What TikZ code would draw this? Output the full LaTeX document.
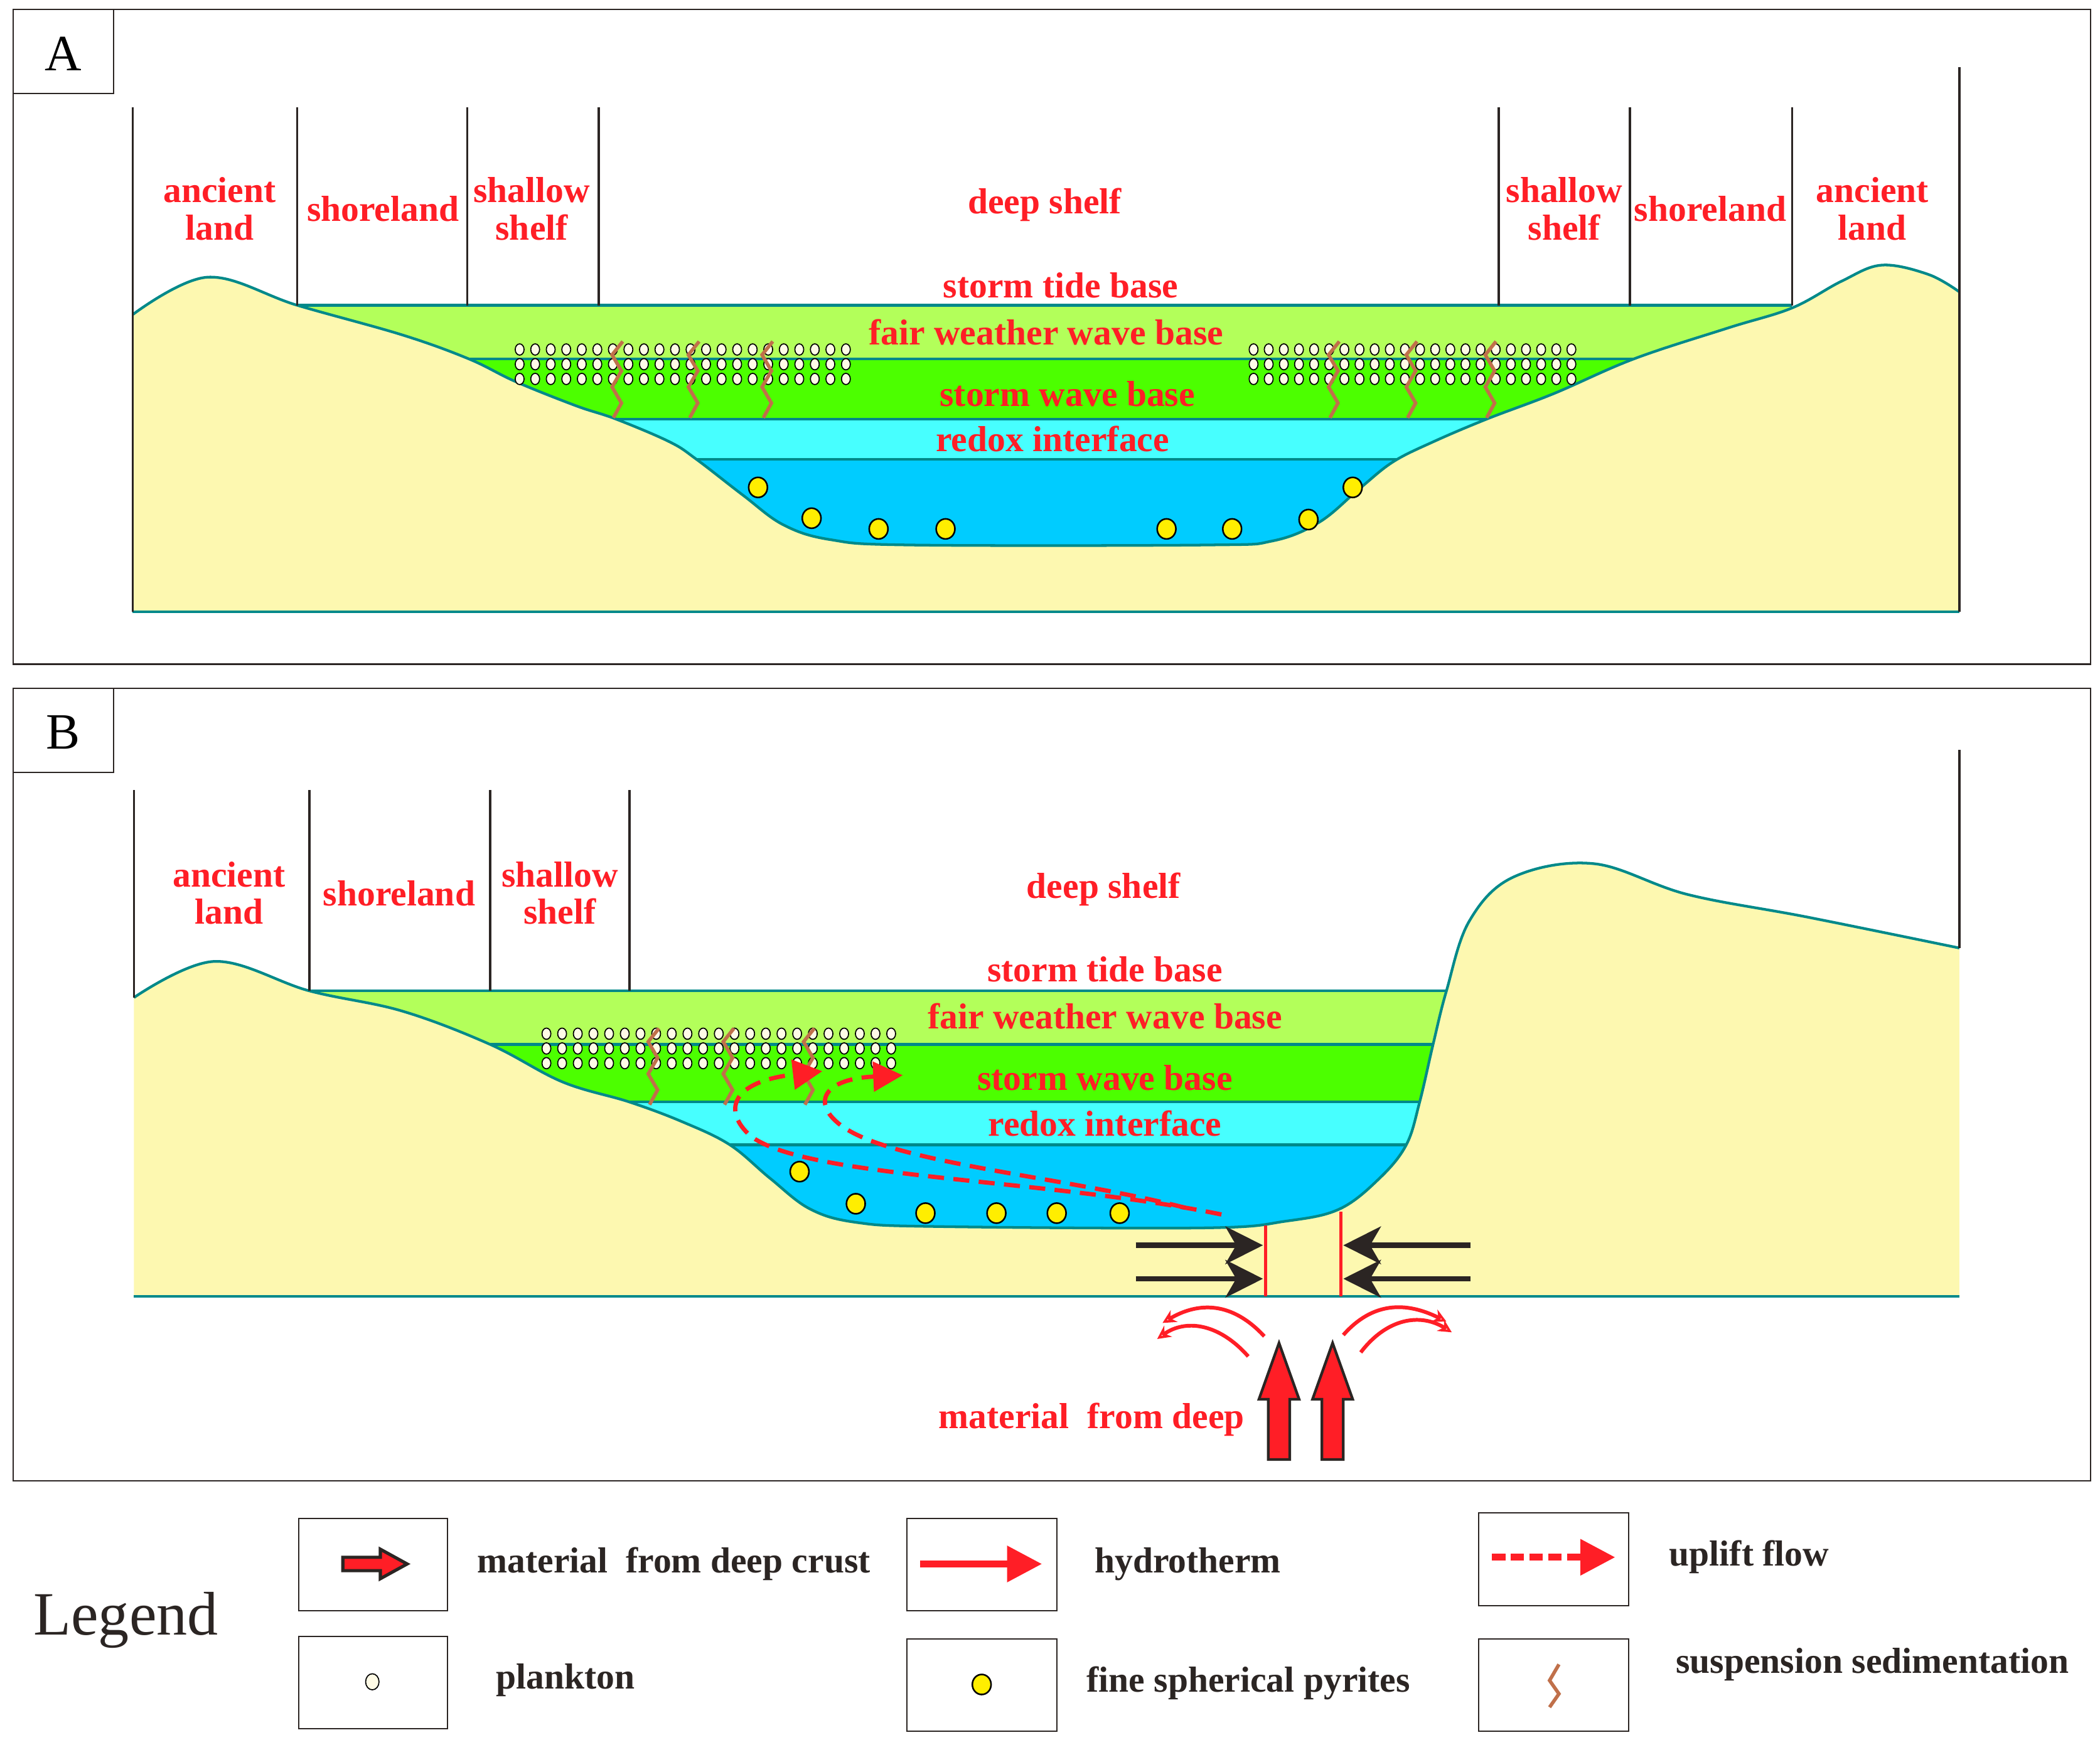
\documentclass[tikz,border=0pt]{standalone}
\usepackage{fontspec}
\setmainfont{Liberation Serif}
\usetikzlibrary{arrows.meta}
\definecolor{landc}{HTML}{FDF8B0}
\definecolor{tealc}{HTML}{00898A}
\definecolor{lg}{HTML}{B3FF5A}
\definecolor{gr}{HTML}{4CFF00}
\definecolor{cy}{HTML}{47FFFF}
\definecolor{bl}{HTML}{00CCFF}
\definecolor{rd}{HTML}{FF1E26}
\definecolor{br}{HTML}{C0704A}
\definecolor{dk}{HTML}{2B2523}
\definecolor{ivory}{HTML}{FFFBE6}
\definecolor{yl}{HTML}{FFEE00}
\tikzset{
 lab/.style={text=rd,font=\fontsize{13.5}{14}\selectfont\bfseries,align=center,inner sep=0},
 leg/.style={text=dk,font=\fontsize{13.5}{14}\selectfont\bfseries,anchor=west,inner sep=0},
 vl/.style={dk,line width=0.8pt},
 surf/.style={tealc,line width=1pt},
 susp/.style={br,line width=1.3pt},
 plk/.style={fill=ivory,draw=black,line width=0.4pt},
 pyr/.style={fill=yl,draw=black,line width=0.6pt},
 frame/.style={draw=dk,line width=0.5pt},
 upl/.style={rd,line width=1.6pt,dash pattern=on 6pt off 3.5pt},
 blk/.style={dk,line width=2pt,-{Stealth[length=14pt,width=14pt,inset=4pt]}},
 hyd/.style={rd,line width=1.4pt,-{Stealth[length=5pt,width=5pt,open]}},
}
\newcommand\suspz[2]{\draw[susp,shift={(#1,#2)}] (5,0) -- (-3,10) -- (4,22) -- (-3,34) -- (4,46) -- (-2,57);}
\newcommand\bigup[1]{\draw[fill=rd,draw=dk,line width=1pt] (#1,1003) -- (#1+15,1045) -- (#1+8,1045) -- (#1+8,1090) -- (#1-8,1090) -- (#1-8,1045) -- (#1-15,1045) -- cycle;}
\begin{document}
\begin{tikzpicture}[x=0.5pt,y=-0.5pt]
\useasboundingbox (0,0) rectangle (1568,1303);
\fill[white] (0,0) rectangle (1568,1303);
% ===== Panel A
\draw[frame] (10,7) rectangle (1561,496);
\draw[frame] (10,7) rectangle (85,70);
\node[font=\fontsize{19}{20}\selectfont] (lA) at (47,40) {A};
\fill[lg] (222,228) rectangle (1338,268);
\fill[gr] (222,268) rectangle (1338,313);
\fill[cy] (222,313) rectangle (1338,343);
\fill[bl] (222,343) rectangle (1338,457);
\foreach \y in {228,268,313,343} \draw[surf] (222,\y) -- (1338,\y);
\def\landA{(99,235)(155,207)(222,228)(300,250)(350,268)(385,285)(430,303)(460,313)(500,330)(520,343)(555,370)(585,392)(620,403)(680,407)(900,407)(950,404)(985,390)(1015,365)(1040,345)(1070,330)(1110,313)(1160,294)(1220,268)(1290,245)(1338,230)(1375,210)(1405,198)(1440,205)(1463,218)}
\fill[landc] (99,457) -- (99,235) -- plot[smooth,tension=0.6] coordinates{\landA} -- (1463,457) -- cycle;
\draw[surf] plot[smooth,tension=0.6] coordinates{\landA};
\draw[surf] (99,457) -- (1463,457);
\draw[vl] (99,80) -- (99,457);
\draw[vl] (1463,50) -- (1463,457);
\foreach \x in {222,349,447,1119,1217,1338} \draw[vl] (\x,80) -- (\x,228);
\node[lab] (a1) at (164,156) {ancient\\land};
\node[lab] (a2) at (286,156) {shoreland};
\node[lab] (a3) at (397,156) {shallow\\shelf};
\node[lab] (a4) at (780,153) {deep shelf};
\node[lab] (a5) at (1168,156) {shallow\\shelf};
\node[lab] (a6) at (1277,156) {shoreland};
\node[lab] (a7) at (1398,156) {ancient\\land};
\node[lab] (a8) at (792,213) {storm tide base};
\node[lab] (a9) at (781,248) {fair weather wave base};
\node[lab] (a10) at (797,294) {storm wave base};
\node[lab] (a11) at (786,328) {redox interface};
\foreach \i in {0,...,21} \foreach \y in {261,272,283} {
  \draw[plk] ({388+\i*11.6},\y) ellipse [x radius=3.3,y radius=4.2];
  \draw[plk] ({936+\i*11.3},\y) ellipse [x radius=3.3,y radius=4.2];}
\suspz{460}{255}\suspz{517}{255}\suspz{572}{255}
\suspz{995}{255}\suspz{1053}{255}\suspz{1112}{255}
\foreach \p in {(566,364),(606,387),(656,395),(706,395),(871,395),(920,395),(977,388),(1010,364)}
  \draw[pyr] \p ellipse [x radius=7,y radius=7.5];
% ===== Panel B
\draw[frame] (10,514) rectangle (1561,1106);
\draw[frame] (10,514) rectangle (85,577);
\node[font=\fontsize{19}{20}\selectfont] (lB) at (47,547) {B};
\fill[lg] (231,740) rectangle (1090,780);
\fill[gr] (231,780) rectangle (1090,823);
\fill[cy] (231,823) rectangle (1090,855);
\fill[bl] (231,855) rectangle (1090,968);
\foreach \y in {740,780,823,855} \draw[surf] (231,\y) -- (1090,\y);
\def\landB{(100,745)(160,718)(231,740)(300,755)(366,780)(420,808)(470,823)(510,838)(545,855)(575,880)(605,903)(640,913)(700,916)(900,917)(960,912)(1000,903)(1030,880)(1050,855)(1060,823)(1070,780)(1080,740)(1097,688)(1130,655)(1190,645)(1260,668)(1350,685)(1463,708)}
\fill[landc] (100,968) -- (100,745) -- plot[smooth,tension=0.6] coordinates{\landB} -- (1463,968) -- cycle;
\draw[surf] plot[smooth,tension=0.6] coordinates{\landB};
\draw[surf] (100,968) -- (1463,968);
\draw[vl] (100,590) -- (100,745);
\draw[vl] (1463,560) -- (1463,708);
\foreach \x in {231,366,470} \draw[vl] (\x,590) -- (\x,740);
\node[lab] (b1) at (171,667) {ancient\\land};
\node[lab] (b2) at (298,667) {shoreland};
\node[lab] (b3) at (418,667) {shallow\\shelf};
\node[lab] (b4) at (824,664) {deep shelf};
\node[lab] (b5) at (825,724) {storm tide base};
\node[lab] (b6) at (825,759) {fair weather wave base};
\node[lab] (b7) at (825,805) {storm wave base};
\node[lab] (b8) at (825,839) {redox interface};
\foreach \i in {0,...,22} \foreach \y in {772,783,794}
  \draw[plk] ({408+\i*11.7},\y) ellipse [x radius=3.3,y radius=4.2];
\suspz{487}{768}\suspz{543}{768}\suspz{603}{768}
\foreach \p in {(597,875),(639,899),(691,906),(744,906),(789,906),(836,906)}
  \draw[pyr] \p ellipse [x radius=7,y radius=7.5];
% uplift flows
\coordinate (u1s) at (912,907);
\coordinate (u1e) at (614,800);
\coordinate (u2s) at (885,902);
\coordinate (u2e) at (674,803);
\draw[upl,-{Triangle[length=11pt,width=11pt]}] (u1s) .. controls (780,880) and (600,880) .. (560,848) .. controls (540,830) and (545,808) .. (u1e);
\draw[upl,-{Triangle[length=11pt,width=11pt]}] (u2s) .. controls (800,880) and (680,870) .. (635,845) .. controls (605,828) and (610,806) .. (u2e);
% faults
\coordinate (f1t) at (945,915); \coordinate (f1b) at (945,968);
\coordinate (f2t) at (1001,905); \coordinate (f2b) at (1001,968);
\draw[rd,line width=1.2pt] (f1t) -- (f1b);
\draw[rd,line width=1.2pt] (f2t) -- (f2b);
\coordinate (k1) at (848,930); \coordinate (k1e) at (943,930);
\coordinate (k2) at (848,955); \coordinate (k2e) at (943,955);
\coordinate (k3) at (1098,930); \coordinate (k3e) at (1003,930);
\coordinate (k4) at (1098,955); \coordinate (k4e) at (1003,955);
\draw[blk] (k1) -- (k1e); \draw[blk] (k2) -- (k2e);
\draw[blk] (k3) -- (k3e); \draw[blk] (k4) -- (k4e);
% hydrotherm arcs
\coordinate (h1) at (944,998); \coordinate (h1e) at (868,988);
\coordinate (h2) at (932,1013); \coordinate (h2e) at (864,1000);
\coordinate (h3) at (1003,997); \coordinate (h3e) at (1080,987);
\coordinate (h4) at (1016,1010); \coordinate (h4e) at (1084,995);
\draw[hyd] (h1) .. controls (920,972) and (895,972) .. (h1e);
\draw[hyd] (h2) .. controls (910,988) and (885,985) .. (h2e);
\draw[hyd] (h3) .. controls (1025,972) and (1050,972) .. (h3e);
\draw[hyd] (h4) .. controls (1035,985) and (1060,980) .. (h4e);
\bigup{955}\bigup{995}
\node[lab] (md) at (815,1060) {material\ \ from deep};
% ===== Legend
\node[font=\fontsize{23}{24}\selectfont,text=dk] (lg) at (94,1210) {Legend};
\draw[frame] (223,1134) rectangle (334,1203);
\draw[frame] (677,1134) rectangle (789,1203);
\draw[frame] (1104,1130) rectangle (1216,1199);
\draw[frame] (223,1222) rectangle (334,1291);
\draw[frame] (677,1224) rectangle (789,1293);
\draw[frame] (1104,1224) rectangle (1216,1293);
\draw[fill=rd,draw=dk,line width=1.2pt] (256,1163) -- (284,1163) -- (284,1157) -- (304,1168) -- (284,1179) -- (284,1173) -- (256,1173) -- cycle;
\coordinate (lh1) at (687,1168); \coordinate (lh2) at (778,1168);
\draw[rd,line width=2.5pt,-{Triangle[length=13pt,width=13pt]}] (lh1) -- (lh2);
\coordinate (lu1) at (1114,1163); \coordinate (lu2) at (1206,1163);
\draw[rd,line width=2.5pt,dash pattern=on 5pt off 2pt,-{Triangle[length=13pt,width=13pt]}] (lu1) -- (lu2);
\draw[plk] (278,1256) ellipse [x radius=5,y radius=6];
\draw[pyr] (733,1258) ellipse [x radius=7,y radius=7.5];
\draw[susp,shift={(1160,1243)}] (4,0) -- (-3,12) -- (4,22) -- (-3,32);
\node[leg] (t1) at (356,1168) {material\ \ from deep crust};
\node[leg] (t2) at (817,1168) {hydrotherm};
\node[leg] (t3) at (1246,1163) {uplift flow};
\node[leg] (t4) at (370,1255) {plankton};
\node[leg] (t5) at (811,1257) {fine spherical pyrites};
\node[leg] (t6) at (1251,1243) {suspension sedimentation};
\end{tikzpicture}
\end{document}
